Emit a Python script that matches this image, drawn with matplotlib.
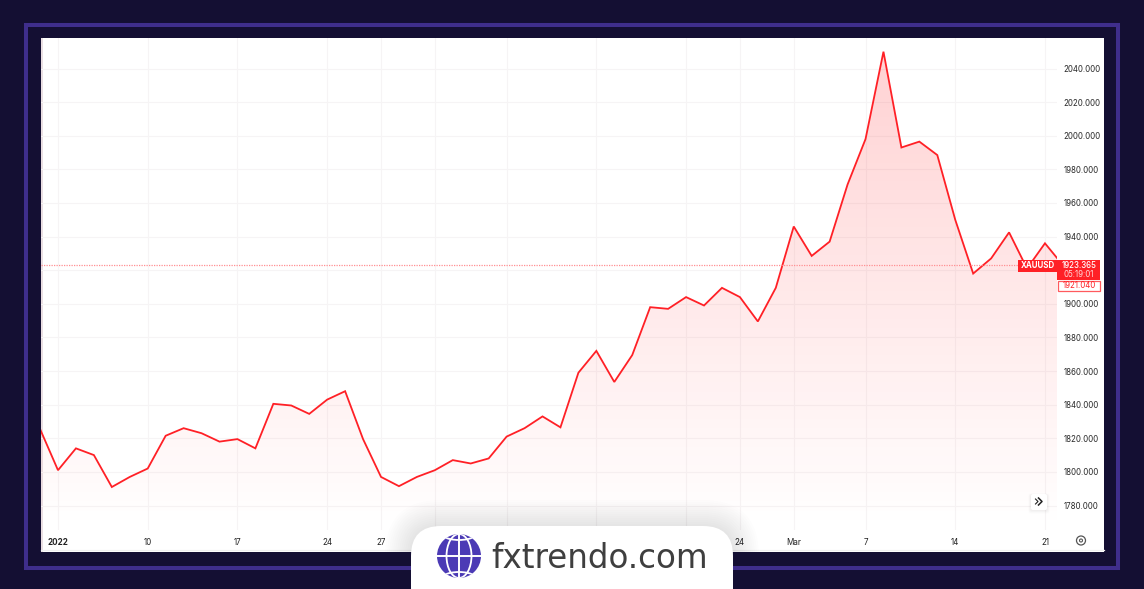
import numpy as np
import matplotlib
matplotlib.use("Agg")
import matplotlib.pyplot as plt
from matplotlib.patches import Rectangle, FancyBboxPatch, Circle, Ellipse

# ---- data ----
prices = [1825.5, 1801, 1814, 1810, 1791, 1797, 1802, 1821.5, 1826, 1823,
          1818, 1819.5, 1814, 1840.5, 1839.5, 1834.5, 1843, 1848, 1819.5, 1797,
          1791.5, 1797, 1801, 1807, 1805, 1808, 1821, 1826, 1833, 1826.5,
          1859, 1872, 1853.5, 1869.5, 1898, 1897, 1904, 1899, 1909.5, 1904,
          1889.5, 1909.5, 1946, 1928.5, 1937, 1971, 1998, 2050, 1993, 1996.5,
          1988.5, 1950, 1918, 1927, 1942.5, 1921, 1936, 1923]
date_ticks = [1, 6, 11, 16, 19, 22, 26, 31, 36, 39, 42, 46, 51, 56]
# the labels under the logo can't be read in the picture
date_labels = ["2022", "10", "17", "24", "27", "", "", "", "", "24", "Mar", "7", "14", "21"]
price_ticks = [1780, 1800, 1820, 1840, 1860, 1880, 1900, 1920, 1940, 1960, 1980, 2000, 2020, 2040]
# 1920 sits behind the price tags
price_labels = ["1780.000", "1800.000", "1820.000", "1840.000", "1860.000", "1880.000", "1900.000", "",
                "1940.000", "1960.000", "1980.000", "2000.000", "2020.000", "2040.000"]
last_price = 1923.365
close_price = "1921.040"
countdown = "05:19:01"
symbol = "XAUUSD"
brand = "fxtrendo.com"

W, H = 1144, 589
RED = "#ff2026"
BG = "#140f33"
FONT = "Inter"

fig = plt.figure(figsize=(W / 100, H / 100), dpi=100, facecolor=BG)

# ---- white panel and frame ----
deco_back = fig.add_axes([0, 0, 1, 1], zorder=0)
deco_back.set_xlim(0, W)
deco_back.set_ylim(H, 0)
deco_back.axis("off")
deco_back.add_patch(Rectangle((26, 25), 1092, 543, fill=False, ec="#3f2e8c", lw=2.9))
deco_back.add_patch(Rectangle((41, 38), 1063, 514, fc="white", ec="none"))
deco_back.add_patch(Rectangle((41, 38), 2, 514, fc="#eadfe3", ec="none"))
deco_back.plot([41, 1104], [549.5, 549.5], color="#f0f0f0", lw=0.9)

# ---- price chart ----
left, right, top, bottom = 41, 1057, 38, 530
bar_px = 17.945
ax = fig.add_axes([left / W, 1 - bottom / H, (right - left) / W, (bottom - top) / H], zorder=1)
ax.patch.set_alpha(0)
x = np.arange(len(prices))
ax.set_xlim((left - 40.05) / bar_px, (right - 40.05) / bar_px)
px_per_unit = 437 / 260
ax.set_ylim(2040 - (bottom - 68.5) / px_per_unit, 2040 + (68.5 - top) / px_per_unit)

ax.grid(True, color="#f6f4f5", lw=0.8)
ax.set_axisbelow(True)

# fill fades out downwards
grad = np.zeros((256, 1, 4))
grad[..., 0] = 1.0
grad[..., 1] = 0.13
grad[..., 2] = 0.15
grad[..., 3] = np.linspace(0.21, 0.0, 256)[:, None]
xl, yl = ax.get_xlim(), ax.get_ylim()
im = ax.imshow(grad, extent=[xl[0], xl[1], yl[0], yl[1]], origin="upper", aspect="auto", zorder=2)
poly = ax.fill_between(x, prices, yl[0], color="none")
im.set_clip_path(poly.get_paths()[0], transform=ax.transData)
ax.set_xlim(xl)
ax.set_ylim(yl)

ax.plot(x, prices, color=RED, lw=1.3, zorder=3, solid_joinstyle="miter")
ax.axhline(last_price, color="#ff8f92", lw=0.9, ls=(0, (1, 1)), zorder=3)

ax.set_xticks(date_ticks)
ax.set_xticklabels(date_labels, fontfamily=FONT, fontsize=5.8, color="#222222")
ax.get_xticklabels()[0].set_fontweight("bold")
ax.yaxis.tick_right()
ax.set_yticks(price_ticks)
ax.set_yticklabels(price_labels, fontfamily=FONT, fontsize=5.7, color="#2a2a2a")
ax.tick_params(length=0)
ax.tick_params(axis="x", pad=6)
ax.tick_params(axis="y", pad=4.5)
for s in ax.spines.values():
    s.set_visible(False)

# ---- overlay: price tags, buttons, logo ----
deco = fig.add_axes([0, 0, 1, 1], zorder=2)
deco.set_xlim(0, W)
deco.set_ylim(H, 0)
deco.axis("off")
deco.patch.set_alpha(0)

deco.add_patch(Rectangle((1018, 260), 39, 11.5, fc=RED, ec="none"))
deco.text(1037.5, 265.8, symbol, color="white", fontsize=5.7, fontweight="bold", family=FONT, ha="center", va="center")
deco.add_patch(Rectangle((1057, 260), 43, 20, fc=RED, ec="none"))
deco.text(1079, 265.6, f"{last_price:.3f}", color="white", fontsize=5.7, family=FONT, fontweight="medium", ha="center", va="center")
deco.text(1079, 274.5, countdown, color="#ffd9da", fontsize=5.7, family=FONT, ha="center", va="center")
deco.add_patch(Rectangle((1057.5, 281), 42, 10, fc="white", ec="#ff5a5e", lw=0.9))
deco.text(1079, 286, close_price, color=RED, fontsize=5.7, family=FONT, ha="center", va="center")

# scroll button
for g in range(5, 0, -1):
    deco.add_patch(FancyBboxPatch((1031 - g * 0.5, 495 - g * 0.3), 16 + g, 15 + g, boxstyle="round,pad=0,rounding_size=2",
                                  fc="black", ec="none", alpha=0.012))
deco.add_patch(FancyBboxPatch((1031, 494), 16, 16, boxstyle="round,pad=0,rounding_size=2", fc="white", ec="none"))
deco.plot([1035.5, 1038, 1035.5], [499, 501.5, 504], color="#222222", lw=0.8)
deco.plot([1038.5, 1042, 1038.5], [498, 501.5, 505], color="#222222", lw=1.1)

# settings icon
deco.add_patch(Circle((1081, 540.5), 4.5, fc="none", ec="#555555", lw=0.9))
deco.add_patch(Circle((1081, 540.5), 1.5, fc="none", ec="#555555", lw=0.8))

# logo pill with soft shadow, shadow stays inside the white panel
panel = Rectangle((41, 38), 1063, 514, transform=deco.transData)
for g in range(26, 0, -2):
    sh = FancyBboxPatch((411 - g, 526 - g), 322 + 2 * g, 100 + 2 * g, boxstyle=f"round,pad=0,rounding_size={30 + g}",
                        fc="#2a2a3a", ec="none", alpha=0.007)
    deco.add_patch(sh)
    sh.set_clip_path(panel)
deco.add_patch(FancyBboxPatch((411, 526), 322, 100, boxstyle="round,pad=0,rounding_size=30", fc="white", ec="none"))

# globe
gx, gy, gr = 459, 556, 22
BLUE = "#4b3ab5"
globe = Circle((gx, gy), gr, fc=BLUE, ec="none")
deco.add_patch(globe)
clip = Circle((gx, gy), gr, transform=deco.transData)
arts = [Ellipse((gx, gy), 25, 2 * gr, fc="none", ec="white", lw=1.3),
        Ellipse((gx, gy - 27), 44, 22, fc="none", ec="white", lw=1.3),
        Ellipse((gx, gy + 27), 44, 22, fc="none", ec="white", lw=1.3)]
for a in arts:
    deco.add_patch(a)
    a.set_clip_path(clip)
deco.plot([gx, gx], [gy - gr, gy + gr], color="white", lw=1.4)
deco.plot([gx - gr, gx + gr], [gy, gy], color="white", lw=1.4)

deco.text(491, 558.5, brand, color="#3f3f3f", fontsize=23.5, family="DejaVu Sans", ha="left", va="center")

fig.savefig("out.png", dpi=100, facecolor=BG)
